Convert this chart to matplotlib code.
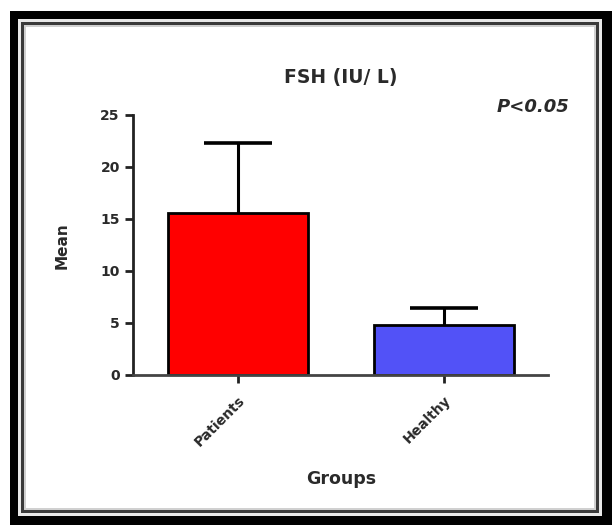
import matplotlib
matplotlib.use("Agg")
import matplotlib.pyplot as plt
from matplotlib.patches import Rectangle

# data
groups = ["Patients", "Healthy"]
means = [15.6, 4.8]
errUpper = [6.7, 1.65]
barColors = ["#ff0000", "#5252f7"]
yTicks = [0, 5, 10, 15, 20, 25]

W, H = 612, 525
textColor = "#2a2a2a"

fig = plt.figure(figsize=(W / 100, H / 100), dpi=100)

def pxRect(x0, y0, x1, y1, color):
    # rectangle given in pixel coords from the top-left corner
    r = Rectangle((x0 / W, 1 - y1 / H), (x1 - x0) / W, (y1 - y0) / H,
                  transform=fig.transFigure, facecolor=color, edgecolor="none",
                  zorder=-10)
    fig.patches.append(r)

# picture frame
pxRect(10, 11, 612, 525, "black")
pxRect(18, 19, 602, 516, "#e8e8e8")
pxRect(21, 22, 599, 513, "#3a3a3a")
pxRect(24, 25, 596, 510, "#d0d0d0")
pxRect(26, 27, 594, 508, "white")

ax = fig.add_axes([133 / W, 1 - 375 / H, (548 - 133) / W, (375 - 115) / H])
ax.set_facecolor("none")
ax.set_zorder(5)

x = range(len(groups))
ax.bar(x, means, width=0.68, color=barColors, edgecolor="black", linewidth=2, zorder=2)
eb = ax.errorbar(x, means, yerr=[[0, 0], errUpper], fmt="none", ecolor="black",
                 elinewidth=2.2, capsize=24.5, capthick=2.6, zorder=1)
# only the upper cap is shown
eb[1][0].set_visible(False)

ax.set_xlim(-0.51, 1.505)
ax.set_ylim(0, 25)
ax.set_yticks(yTicks)
ax.set_xticks(list(x))
ax.set_xticklabels(groups, rotation=45, ha="right", va="top", rotation_mode="anchor")

for s in ["top", "right"]:
    ax.spines[s].set_visible(False)
ax.spines["left"].set_linewidth(2)
ax.spines["bottom"].set_linewidth(2)
ax.spines["left"].set_color("#222222")
ax.spines["bottom"].set_color("#444444")
ax.tick_params(axis="both", width=2, length=6, color="#222222", labelcolor=textColor,
               labelsize=10)
ax.tick_params(axis="x", pad=7)
for lbl in ax.get_xticklabels() + ax.get_yticklabels():
    lbl.set_fontweight("bold")

fig.text(341 / W, 1 - 78 / H, "FSH (IU/ L)", ha="center", va="center",
         fontsize=13.5, fontweight="bold", color=textColor)
fig.text(569 / W, 1 - 107 / H, "P<0.05", ha="right", va="center",
         fontsize=13, fontweight="bold", style="italic", color=textColor)
fig.text(62 / W, 1 - 246 / H, "Mean", ha="center", va="center", rotation=90,
         fontsize=11, fontweight="bold", color=textColor)
fig.text(341 / W, 1 - 479 / H, "Groups", ha="center", va="center",
         fontsize=12.5, fontweight="bold", color=textColor)

fig.savefig("out.png", dpi=100)
